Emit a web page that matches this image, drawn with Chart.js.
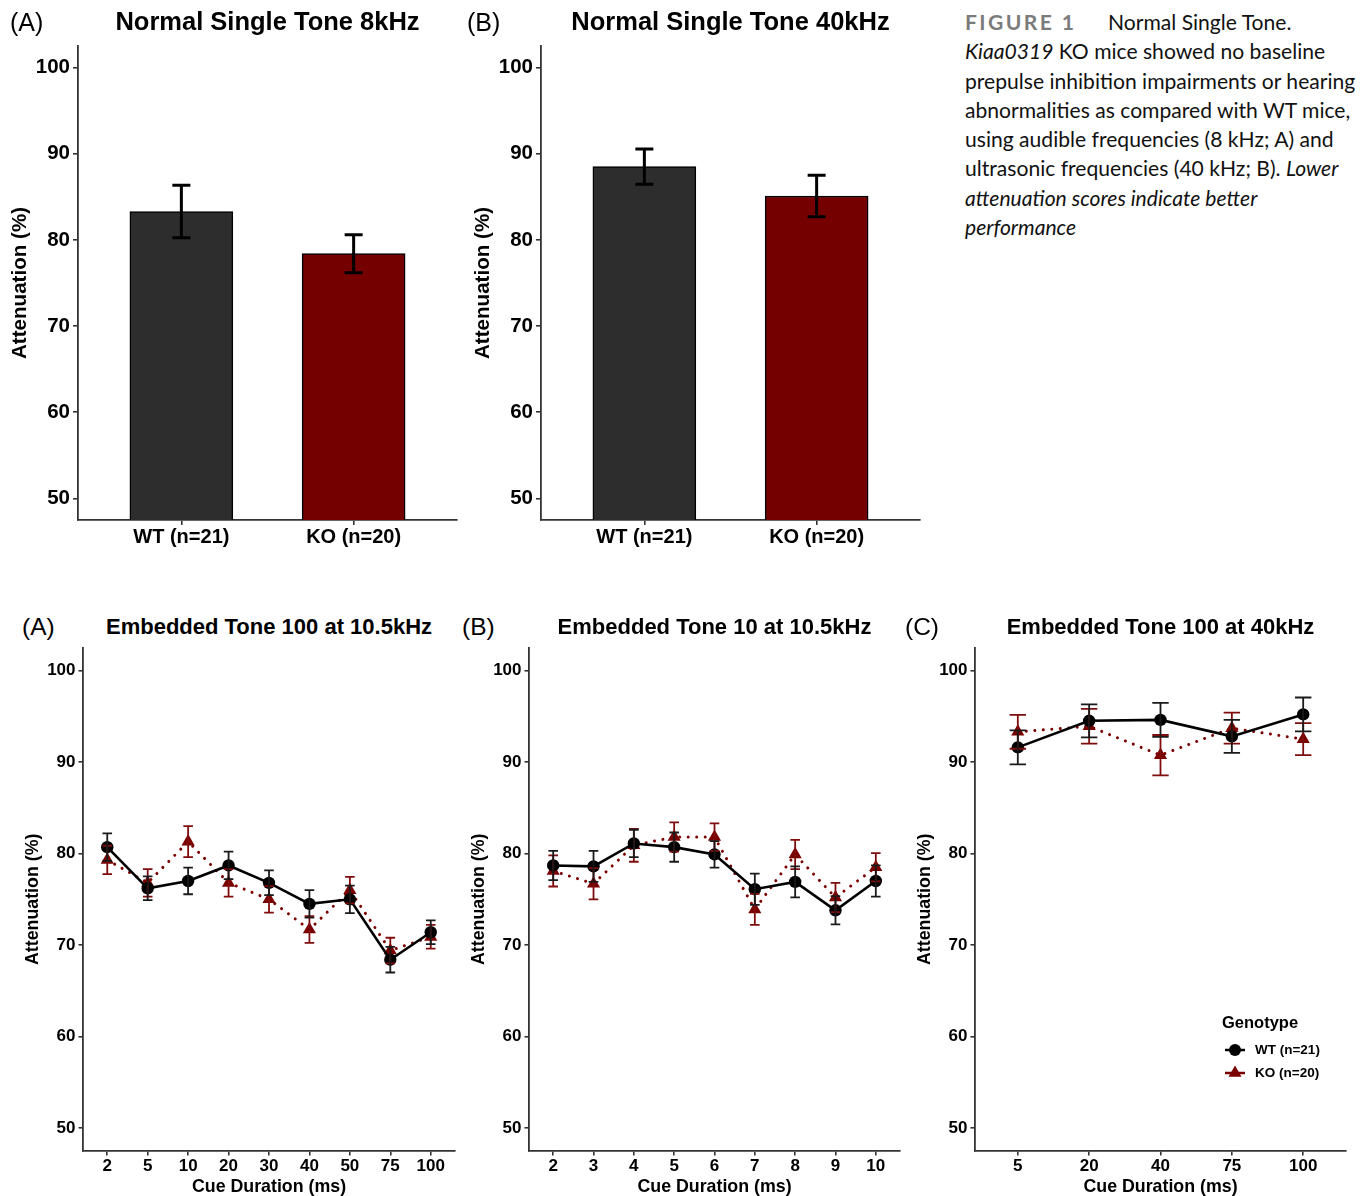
<!DOCTYPE html>
<html>
<head>
<meta charset="utf-8">
<script src="https://cdn.jsdelivr.net/npm/chart.js@4.4.1/dist/chart.umd.min.js"></script>
<style>
  html,body{margin:0;padding:0;background:#fff;}
  body{width:1365px;height:1196px;position:relative;overflow:hidden;font-family:"Liberation Sans",Arial,sans-serif;}
  canvas{position:absolute;}
  .t{position:absolute;white-space:nowrap;color:#000;line-height:1;}
  .pl{font-size:25px;transform:translateY(-50%);}
  .pl2{font-size:24.5px;transform:translateY(-50%);}
  .ti{font-weight:bold;font-size:25.5px;transform:translate(-50%,-50%);}
  .ti2{font-weight:bold;font-size:22px;transform:translate(-50%,-50%);}
  #cap{position:absolute;left:965px;top:7px;font-family:Lato,"Open Sans",sans-serif;font-size:21.1px;line-height:29.3px;color:#111;white-space:nowrap;}
  #cap .fig{display:inline-block;width:143px;font-weight:bold;letter-spacing:2.4px;color:#7b7b7b;}
  .leg{position:absolute;white-space:nowrap;font-weight:bold;color:#000;line-height:1;transform:translateY(-50%);}
</style>
</head>
<body>
<canvas id="topA" width="470" height="530" style="left:0px;top:30px"></canvas>
<canvas id="topB" width="470" height="530" style="left:463px;top:30px"></canvas>
<canvas id="botA" width="465" height="558" style="left:0px;top:640px"></canvas>
<canvas id="botB" width="464" height="558" style="left:446px;top:640px"></canvas>
<canvas id="botC" width="473" height="558" style="left:892px;top:640px"></canvas>

<div class="t pl" style="left:10px;top:22px">(A)</div>
<div class="t ti" style="left:267.5px;top:22px">Normal Single Tone 8kHz</div>
<div class="t pl" style="left:467px;top:22px">(B)</div>
<div class="t ti" style="left:730.5px;top:22px">Normal Single Tone 40kHz</div>

<div class="t pl2" style="left:22px;top:627px">(A)</div>
<div class="t ti2" style="left:269px;top:627px">Embedded Tone 100 at 10.5kHz</div>
<div class="t pl2" style="left:462px;top:627px">(B)</div>
<div class="t ti2" style="left:714.5px;top:627px">Embedded Tone 10 at 10.5kHz</div>
<div class="t pl2" style="left:905px;top:627px">(C)</div>
<div class="t ti2" style="left:1160.5px;top:627px">Embedded Tone 100 at 40kHz</div>

<div id="cap">
<div><span class="fig">FIGURE 1</span>Normal Single Tone.</div>
<div><i>Kiaa0319</i> KO mice showed no baseline</div>
<div>prepulse inhibition impairments or hearing</div>
<div>abnormalities as compared with WT mice,</div>
<div>using audible frequencies (8 kHz; A) and</div>
<div>ultrasonic frequencies (40 kHz; B). <i>Lower</i></div>
<div><i>attenuation scores indicate better</i></div>
<div><i>performance</i></div>
</div>

<div class="leg" style="left:1222px;top:1022px;font-size:16.5px">Genotype</div>
<svg style="position:absolute;left:1220px;top:1036px" width="32" height="50">
  <line x1="5" y1="14" x2="25" y2="14" stroke="#000" stroke-width="2.5"/>
  <circle cx="15" cy="14" r="6" fill="#000"/>
  <line x1="5" y1="37" x2="25" y2="37" stroke="#7a0000" stroke-width="2.5"/>
  <polygon points="15,29.5 21.5,40.75 8.5,40.75" fill="#7a0000"/>
</svg>
<div class="leg" style="left:1255px;top:1050px;font-size:13.5px">WT (n=21)</div>
<div class="leg" style="left:1255px;top:1073px;font-size:13.5px">KO (n=20)</div>

<script>
// ---------------- DATA ----------------
const genotypes = ['WT (n=21)', 'KO (n=20)'];
const yTicks = [50, 60, 70, 80, 90, 100];

// Normal single tone (bar charts): [WT, KO]
const single8Mean  = [83.3, 78.4];
const single8Err   = [3.05, 2.2];
const single40Mean = [88.5, 85.1];
const single40Err  = [2.05, 2.4];

// Embedded Tone 100 at 10.5kHz
const catsA  = ['2', '5', '10', '20', '30', '40', '50', '75', '100'];
const wtA    = [80.7, 76.2, 77.0, 78.7, 76.8, 74.5, 75.0, 68.4, 71.4];
const wtAErr = [1.5, 1.3, 1.45, 1.5, 1.35, 1.5, 1.5, 1.4, 1.3];
const koA    = [79.3, 76.8, 81.3, 76.8, 75.0, 71.7, 76.0, 69.4, 70.9];
const koAErr = [1.55, 1.5, 1.7, 1.5, 1.45, 1.45, 1.45, 1.4, 1.3];

// Embedded Tone 10 at 10.5kHz
const catsB  = ['2', '3', '4', '5', '6', '7', '8', '9', '10'];
const wtB    = [78.7, 78.6, 81.1, 80.7, 79.9, 76.1, 76.9, 73.8, 77.0];
const wtBErr = [1.6, 1.7, 1.5, 1.6, 1.45, 1.7, 1.7, 1.55, 1.7];
const koB    = [78.1, 76.7, 80.9, 81.8, 81.8, 73.9, 79.9, 75.2, 78.5];
const koBErr = [1.7, 1.7, 1.8, 1.6, 1.5, 1.7, 1.6, 1.6, 1.55];

// Embedded Tone 100 at 40kHz
const catsC  = ['5', '20', '40', '75', '100'];
const wtC    = [91.6, 94.5, 94.6, 92.8, 95.2];
const wtCErr = [1.85, 1.8, 1.85, 1.8, 1.85];
const koC    = [93.3, 93.9, 90.75, 93.7, 92.5];
const koCErr = [1.85, 1.9, 2.2, 1.7, 1.75];

// ---------------- STYLE ----------------
const FONT = '"Liberation Sans", Arial, sans-serif';
const WT_COL = '#000000', KO_COL = '#7a0000', KO_ERR = '#800d0d';
const BAR_WT = '#2d2d2d', BAR_KO = '#750000';
Chart.defaults.font.family = FONT;
Chart.defaults.color = '#000';

const errPlugin = {
  id: 'errbars',
  afterDatasetsDraw(chart) {
    const ctx = chart.ctx, ys = chart.scales.y;
    const dsets = chart.data.datasets;
    for (let d = dsets.length - 1; d >= 0; d--) {
      const ds = dsets[d];
      if (!ds.errors) continue;
      const meta = chart.getDatasetMeta(d);
      ctx.save();
      ctx.strokeStyle = ds.errColor;
      ctx.lineWidth = ds.errWidth;
      ctx.lineCap = 'butt';
      meta.data.forEach((el, i) => {
        const v = ds.data[i].y, e = ds.errors[i];
        const cap = ds.errCap;
        const x = el.x, y1 = ys.getPixelForValue(v + e), y2 = ys.getPixelForValue(v - e);
        ctx.beginPath();
        ctx.moveTo(x, y1); ctx.lineTo(x, y2);
        ctx.moveTo(x - cap, y1); ctx.lineTo(x + cap, y1);
        ctx.moveTo(x - cap, y2); ctx.lineTo(x + cap, y2);
        ctx.stroke();
      });
      ctx.restore();
    }
  }
};

function yScale(w, tickSize, titleSize, titlePad, tickLen) {
  return {
    type: 'linear', min: 47.5, max: 102.5, beginAtZero: false,
    afterBuildTicks: s => { s.ticks = yTicks.map(v => ({ value: v })); },
    afterFit: s => { s.width = w; s.paddingTop = 0; s.paddingBottom = 0; },
    grid: { display: true, drawOnChartArea: false, drawTicks: true, tickLength: tickLen, color: '#333', lineWidth: 1.6 },
    border: { display: true, color: '#333', width: 1.8 },
    ticks: { color: '#000', font: { family: FONT, size: tickSize, weight: 'bold' }, padding: 3 },
    title: { display: true, text: 'Attenuation (%)', color: '#000',
             font: { family: FONT, size: titleSize, weight: 'bold' }, padding: { top: titlePad, bottom: 0 } }
  };
}

function xScale(labels, h, tickSize, tickLen, tickPad, title, lo, hi, base) {
  const sc = {
    type: 'linear', min: lo, max: hi, offset: false,
    afterBuildTicks: s => { s.ticks = labels.map((_, i) => ({ value: i + base })); },
    afterFit: s => { s.height = h; s.paddingLeft = 0; s.paddingRight = 0; },
    grid: { display: true, drawOnChartArea: false, drawTicks: true, tickLength: tickLen, color: '#333', lineWidth: 1.6, offset: false },
    border: { display: true, color: '#333', width: 1.8 },
    ticks: { color: '#000', autoSkip: false, maxRotation: 0, minRotation: 0,
             font: { family: FONT, size: tickSize, weight: 'bold' }, padding: tickPad,
             callback: v => labels[Math.round(v) - base] }
  };
  if (title) {
    sc.title = { display: true, text: title, color: '#000',
                 font: { family: FONT, size: 17.8, weight: 'bold' }, padding: { top: 0, bottom: 0 } };
  }
  return sc;
}

function barChart(id, mean, err) {
  new Chart(document.getElementById(id), {
    type: 'bar',
    data: {
      datasets: [{
        data: genotypes.map((g, i) => ({ x: i + 1, y: mean[i] })),
        backgroundColor: [BAR_WT, BAR_KO],
        borderColor: '#000', borderWidth: 1.5,
        barThickness: 103,
        errors: err, errColor: '#000', errWidth: 3, errCap: 9
      }]
    },
    options: {
      responsive: false, animation: false, devicePixelRatio: 1,
      layout: { padding: { top: 16, right: 13, left: 0, bottom: 0 } },
      plugins: { legend: { display: false }, tooltip: { enabled: false } },
      scales: {
        x: xScale(genotypes, 40, 20, 5, 0, null, 0.4, 2.6, 1),
        y: yScale(78, 20.5, 20.6, 8, 5)
      }
    },
    plugins: [errPlugin]
  });
}

function lineChart(id, cats, wt, wtE, ko, koE, yw, padRight, cap) {
  const pts = arr => cats.map((c, i) => ({ x: i, y: arr[i] }));
  new Chart(document.getElementById(id), {
    type: 'line',
    data: {
      datasets: [
        { label: genotypes[0], data: pts(wt), borderColor: WT_COL, borderWidth: 2.6, tension: 0,
          pointStyle: 'circle', pointRadius: 6.2, pointBackgroundColor: WT_COL, pointBorderWidth: 0,
          errors: wtE, errColor: '#1a1a1a', errWidth: 1.8, errCap: cap },
        { label: genotypes[1], data: pts(ko), borderColor: KO_COL, borderWidth: 3, tension: 0,
          borderDash: [0.01, 8.5], borderCapStyle: 'round',
          pointStyle: 'triangle', pointRadius: 7.6, pointBackgroundColor: KO_COL, pointBorderWidth: 0,
          errors: koE, errColor: KO_ERR, errWidth: 1.8, errCap: cap }
      ]
    },
    options: {
      responsive: false, animation: false, devicePixelRatio: 1,
      layout: { padding: { top: 6, right: padRight, left: 0, bottom: 0 } },
      plugins: { legend: { display: false }, tooltip: { enabled: false } },
      scales: {
        x: xScale(cats, 47, 17, 4.5, 1, 'Cue Duration (ms)', -0.6, cats.length - 0.4, 0),
        y: yScale(yw, 17, 17.8, 22, 4.5)
      }
    },
    plugins: [errPlugin]
  });
}

barChart('topA', single8Mean, single8Err);
barChart('topB', single40Mean, single40Err);
lineChart('botA', catsA, wtA, wtAErr, koA, koAErr, 83, 10, 4.8);
lineChart('botB', catsB, wtB, wtBErr, koB, koBErr, 83, 10, 4.8);
lineChart('botC', catsC, wtC, wtCErr, koC, koCErr, 83, 19, 8.2);
</script>
</body>
</html>
